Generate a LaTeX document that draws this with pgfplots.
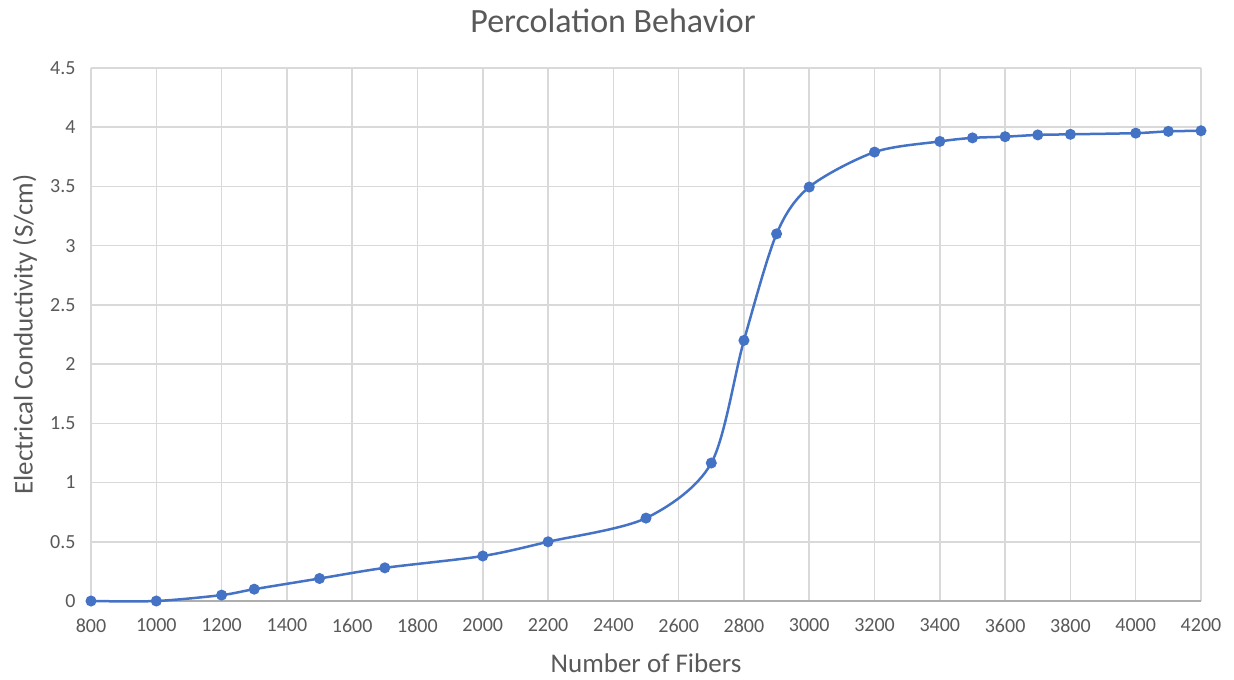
\documentclass[border=0pt]{standalone}
\usepackage{fontspec}
\setmainfont{Carlito}
\usepackage{pgfplots}
\pgfplotsset{compat=1.18}
\usetikzlibrary{calc}
\definecolor{exblue}{HTML}{4472C4}
\definecolor{gridgray}{HTML}{D9D9D9}
\definecolor{txtgray}{HTML}{595959}
\begin{document}
\begin{tikzpicture}
\begin{axis}[
    name=ax,
    scale only axis,
    width=1110bp, height=533bp,
    xmin=800, xmax=4200,
    ymin=0, ymax=4.5,
    xtick={800,1000,...,4200},
    ytick={0,0.5,...,4.5},
    grid=major,
    grid style={gridgray, line width=1.5bp},
    axis line style={draw=none},
    major tick length=0pt,
    tick label style={font=\fontsize{20bp}{23bp}\selectfont, text=txtgray},
    /pgf/number format/assume math mode=true,
    /pgf/number format/.cd, 1000 sep={}, /pgfplots/.cd,
    yticklabel style={anchor=east, xshift=-12bp},
    xticklabel style={anchor=north, yshift=-14bp},
    xlabel={Number of Fibers},
    ylabel={Electrical Conductivity (S/cm)},
    label style={font=\fontsize{27bp}{30bp}\selectfont, text=txtgray},
    xlabel style={at={(axis description cs:0.5,0)}, anchor=center, yshift=-62bp},
    ylabel style={at={(axis description cs:0,0.5)}, anchor=center, yshift=66bp},
    clip=false,
]
\draw[gridgray!80!black, line width=1.5bp] (rel axis cs:0,0) -- (rel axis cs:1,0);
\addplot[exblue, line width=2.5bp, smooth, tension=0.5,
    mark=*, mark size=4.2bp, mark options={fill=exblue, draw=exblue}]
    coordinates {
    (800,0) (1000,0) (1200,0.05) (1300,0.10) (1500,0.19) (1700,0.28)
    (2000,0.38) (2200,0.50) (2500,0.70) (2700,1.165) (2800,2.20)
    (2900,3.10) (3000,3.495) (3200,3.79) (3400,3.88) (3500,3.91)
    (3600,3.92) (3700,3.935) (3800,3.94) (4000,3.95) (4100,3.965) (4200,3.97)
    };
\end{axis}
\node[font=\fontsize{34bp}{38bp}\selectfont, text=txtgray] at ($(ax.north west)+(522bp,47bp)$) {Percolation Behavior};
\pgfresetboundingbox
\path ($(ax.south west)+(-91bp,-78bp)$) rectangle ($(ax.north east)+(33bp,68bp)$);
\end{tikzpicture}
\end{document}
